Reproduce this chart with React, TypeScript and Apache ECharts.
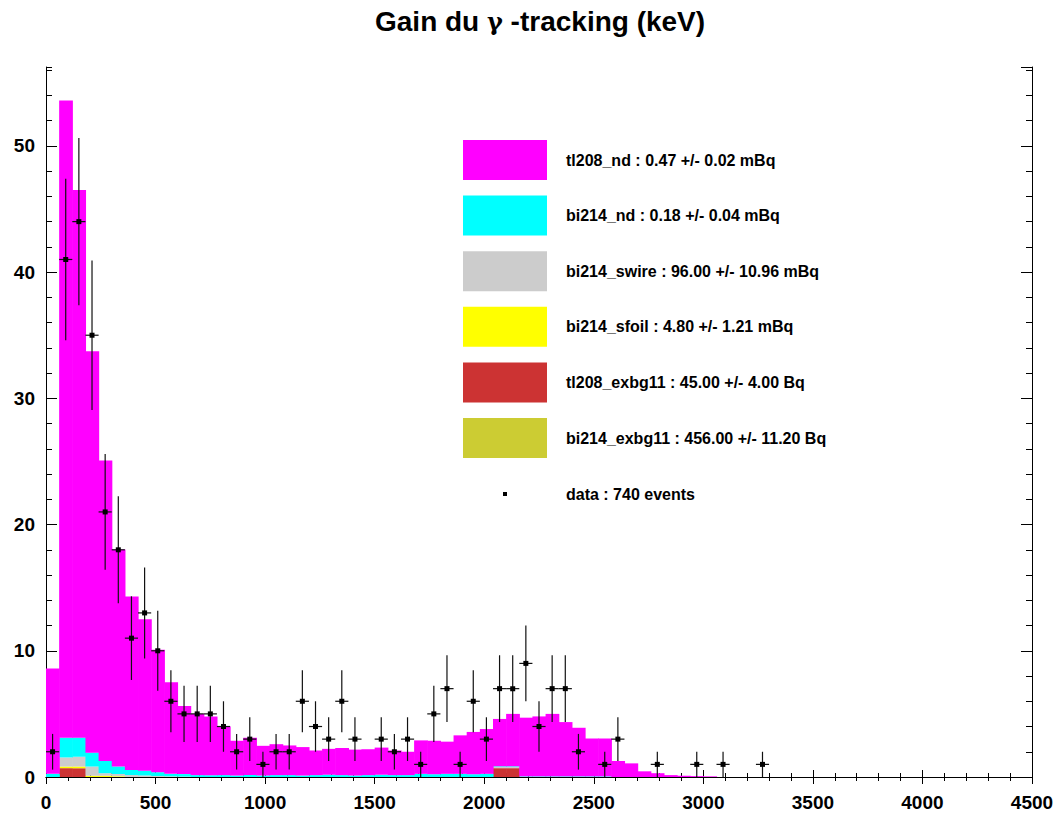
import React, { useEffect, useRef } from "react";
import * as echarts from "echarts";

// Histogram binning (keV)
const BIN_WIDTH = 60;
const X_MAX = 4500;
const Y_MAX = 56.25;

// Stacked MC components, own contribution per bin (bin i covers [i*60, (i+1)*60) keV)
const tl208Nd = [
  8.35, 50.5, 43.4, 31.8, 23.8, 17.2, 13.75, 12.0, 9.7, 7.25, 5.4,
  4.85, 4.65, 3.85, 2.75, 2.95, 2.35, 2.45, 2.35, 2.25, 1.95, 2.05, 2.15, 2.05, 2.05, 2.15, 1.95, 1.85,
  2.65, 2.65, 2.55, 3.05, 3.35, 3.55,
  3.75, 4.15,
  4.65, 4.75, 4.95, 4.3, 3.85, 3.0, 3.0,
  1.27, 1.08, 0.45, 0.3, 0.15, 0.1, 0.07, 0.05,
];
const bi214Nd = [
  0.25, 1.55, 1.5, 1.1, 0.97, 0.6, 0.4, 0.38, 0.3, 0.2, 0.2,
  0.15, 0.14, 0.15, 0.12, 0.15, 0.12, 0.15, 0.15, 0.12, 0.15, 0.18, 0.15, 0.12, 0.15, 0.18, 0.15, 0.15,
  0.25, 0.22, 0.25, 0.25, 0.22, 0.25,
  0.05, 0.05,
  0.05, 0.05, 0.05, 0.05, 0.05, 0.05, 0.05,
];
const bi214Swire = [
  0, 0.72, 0.77, 0.73, 0.2, 0.17, 0.15, 0.12, 0.08, 0.05, 0.03,
  0, 0, 0, 0, 0, 0, 0, 0, 0, 0, 0, 0, 0, 0, 0, 0, 0,
  0, 0, 0, 0, 0, 0,
  0.1, 0.1,
];
const bi214Sfoil = [0, 0.13, 0.13, 0.1, 0.1, 0.06];
const tl208Exbg11 = [
  0, 0.7, 0.7, 0, 0, 0, 0, 0, 0, 0, 0,
  0, 0, 0, 0, 0, 0, 0, 0, 0, 0, 0, 0, 0, 0, 0, 0, 0,
  0, 0, 0, 0, 0, 0,
  0.7, 0.7,
];
const bi214Exbg11: number[] = [];

// Observed counts per bin
const dataCounts = [
  2, 41, 44, 35, 21, 18, 11, 13, 10, 6, 5, 5, 5, 4, 2, 3, 1, 2, 2, 6,
  4, 3, 6, 3, 0, 3, 2, 3, 1, 5, 7, 1, 6, 3, 7, 7, 9, 4, 7, 7,
  2, 0, 1, 3, 0, 0, 1, 0, 0, 1, 0, 1, 0, 0, 1,
];

// Legend
const legendLabels = [
  "tl208_nd : 0.47 +/- 0.02 mBq",
  "bi214_nd : 0.18 +/- 0.04 mBq",
  "bi214_swire : 96.00 +/- 10.96 mBq",
  "bi214_sfoil : 4.80 +/- 1.21 mBq",
  "tl208_exbg11 : 45.00 +/- 4.00 Bq",
  "bi214_exbg11 : 456.00 +/- 11.20 Bq",
];
const dataLabel = "data : 740 events";
const legendColors = ["#ff00ff", "#00ffff", "#cccccc", "#ffff00", "#cc3333", "#cccc33"];

const FONT = "'Liberation Sans', Arial, sans-serif";

export default function App() {
  const ref = useRef<HTMLDivElement>(null);

  useEffect(() => {
    if (!ref.current) return;
    const chart = echarts.init(ref.current, null, { renderer: "svg" });

    // stack bottom -> top
    const layers = [
      { arr: bi214Exbg11, color: legendColors[5] },
      { arr: tl208Exbg11, color: legendColors[4] },
      { arr: bi214Sfoil, color: legendColors[3] },
      { arr: bi214Swire, color: legendColors[2] },
      { arr: bi214Nd, color: legendColors[1] },
      { arr: tl208Nd, color: legendColors[0] },
    ];
    const nBins = Math.max(...layers.map((l) => l.arr.length));
    const base = new Array(nBins).fill(0);
    const histSeries: any[] = layers.map((l) => {
      const data: number[][] = [];
      for (let i = 0; i < nBins; i++) {
        const v = l.arr[i] || 0;
        if (v > 0) data.push([i, base[i], base[i] + v]);
        base[i] += v;
      }
      return {
        type: "custom",
        coordinateSystem: "cartesian2d",
        xAxisIndex: 0,
        yAxisIndex: 0,
        silent: true,
        clip: true,
        data,
        renderItem: (params: any, api: any) => {
          const i = api.value(0);
          const lo = api.value(1);
          const hi = api.value(2);
          const p0 = api.coord([i * BIN_WIDTH, lo]);
          const p1 = api.coord([(i + 1) * BIN_WIDTH, hi]);
          return {
            type: "rect",
            shape: { x: p0[0], y: p1[1], width: p1[0] - p0[0] + 0.6, height: p0[1] - p1[1] },
            style: { fill: l.color },
          };
        },
      };
    });

    const pointData = dataCounts
      .map((c, i) => [(i + 0.5) * BIN_WIDTH, c])
      .filter((d) => d[1] > 0);

    const dataSeries = {
      type: "custom",
      coordinateSystem: "cartesian2d",
      xAxisIndex: 0,
      yAxisIndex: 0,
      silent: true,
      clip: true,
      z: 10,
      data: pointData,
      renderItem: (params: any, api: any) => {
        const x = api.value(0);
        const y = api.value(1);
        const err = Math.sqrt(y);
        const c = api.coord([x, y]);
        const top = api.coord([x, y + err]);
        const bot = api.coord([x, Math.max(0, y - err)]);
        const left = api.coord([x - BIN_WIDTH / 2, y]);
        const right = api.coord([x + BIN_WIDTH / 2, y]);
        return {
          type: "group",
          children: [
            {
              type: "line",
              shape: { x1: c[0], y1: top[1], x2: c[0], y2: bot[1] },
              style: { stroke: "#111", lineWidth: 1.2 },
            },
            {
              type: "line",
              shape: { x1: left[0], y1: c[1], x2: right[0], y2: c[1] },
              style: { stroke: "#111", lineWidth: 1.2 },
            },
            {
              type: "rect",
              shape: { x: c[0] - 2.5, y: c[1] - 2.5, width: 5, height: 5 },
              style: { fill: "#000" },
            },
          ],
        };
      },
    };

    const axisLine = { show: true, lineStyle: { color: "#000", width: 1 } };
    const labelStyle = { fontFamily: FONT, fontWeight: "bold", fontSize: 19, color: "#000" };

    const graphics: any[] = [];
    legendLabels.forEach((t, k) => {
      const cy = 160 + k * 55.6;
      graphics.push({
        type: "rect",
        left: 463,
        top: cy - 20,
        shape: { width: 84, height: 40 },
        style: { fill: legendColors[k] },
      });
      graphics.push({
        type: "text",
        x: 566,
        y: cy,
        style: {
          text: t,
          fontFamily: FONT,
          fontWeight: "bold",
          fontSize: 16,
          fill: "#000",
          verticalAlign: "middle",
        },
      });
    });
    graphics.push({
      type: "rect",
      shape: { x: 503, y: 492, width: 4, height: 4 },
      style: { fill: "#000" },
    });
    graphics.push({
      type: "text",
      x: 566,
      y: 494,
      style: {
        text: dataLabel,
        fontFamily: FONT,
        fontWeight: "bold",
        fontSize: 16,
        fill: "#000",
        verticalAlign: "middle",
      },
    });

    chart.setOption({
      animation: false,
      backgroundColor: "#fff",
      title: {
        text: "{a|Gain du }{g|γ}{a| -tracking (keV)}",
        left: 370,
        top: 2,
        textStyle: {
          rich: {
            a: { fontFamily: FONT, fontWeight: "bold", fontSize: 28, color: "#000" },
            g: { fontFamily: "'DejaVu Serif', serif", fontSize: 24, color: "#000" },
          },
        },
      },
      grid: { left: 46, right: 26, top: 67, bottom: 41 },
      xAxis: [
        {
          type: "value",
          position: "bottom",
          min: 0,
          max: X_MAX,
          interval: 500,
          axisLine,
          axisTick: { show: true, inside: true, length: 7, lineStyle: { color: "#000" } },
          minorTick: { show: true, splitNumber: 5, length: 4, lineStyle: { color: "#000" } },
          splitLine: { show: false },
          axisLabel: { ...labelStyle, margin: 16, showMaxLabel: true, formatter: (v: number) => String(v) },
        },
        {
          type: "value",
          position: "top",
          min: 0,
          max: X_MAX,
          interval: 500,
          axisLine,
          axisTick: { show: true, inside: true, length: 7, lineStyle: { color: "#000" } },
          minorTick: { show: true, splitNumber: 5, length: 4, lineStyle: { color: "#000" } },
          splitLine: { show: false },
          axisLabel: { show: false },
        },
      ],
      yAxis: [
        {
          type: "value",
          position: "left",
          min: 0,
          max: Y_MAX,
          interval: 10,
          axisLine,
          axisTick: { show: true, inside: true, length: 11, lineStyle: { color: "#000" } },
          splitLine: { show: false },
          axisLabel: { ...labelStyle, margin: 11, showMaxLabel: false, formatter: (v: number) => String(v) },
        },
        {
          type: "value",
          position: "left",
          min: 0,
          max: Y_MAX,
          interval: 2,
          axisLine: { show: false },
          axisTick: { show: true, inside: true, length: 6, lineStyle: { color: "#000" } },
          splitLine: { show: false },
          axisLabel: { show: false },
        },
        {
          type: "value",
          position: "right",
          min: 0,
          max: Y_MAX,
          interval: 10,
          axisLine,
          axisTick: { show: true, inside: true, length: 11, lineStyle: { color: "#000" } },
          splitLine: { show: false },
          axisLabel: { show: false },
        },
        {
          type: "value",
          position: "right",
          min: 0,
          max: Y_MAX,
          interval: 2,
          axisLine: { show: false },
          axisTick: { show: true, inside: true, length: 6, lineStyle: { color: "#000" } },
          splitLine: { show: false },
          axisLabel: { show: false },
        },
      ],
      series: [...histSeries, dataSeries],
      graphic: graphics,
    });

    return () => chart.dispose();
  }, []);

  return (
    <div
      ref={ref}
      style={{ position: "absolute", left: 0, top: 0, width: 1058, height: 818, background: "#fff" }}
    />
  );
}
